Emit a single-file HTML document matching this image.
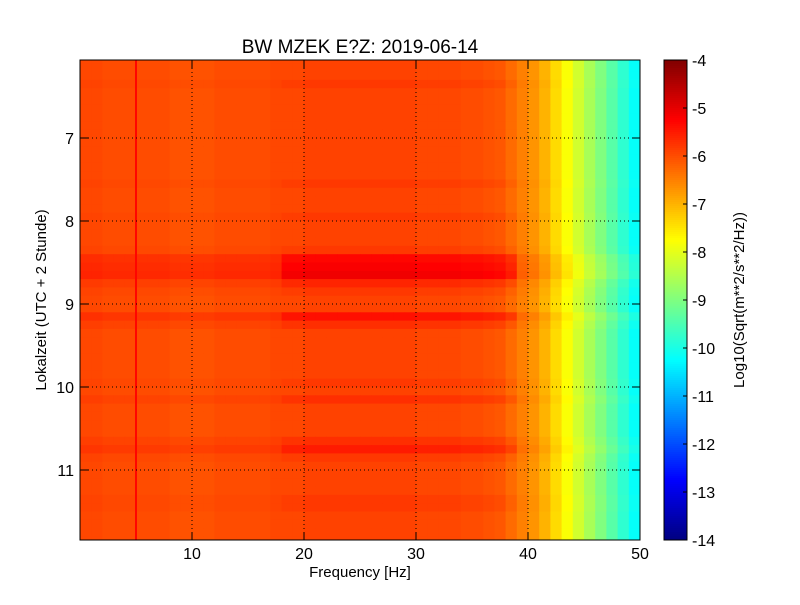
<!DOCTYPE html>
<html><head><meta charset="utf-8"><style>
body{margin:0;background:#fff;}
svg text{font-family:"Liberation Sans",sans-serif;fill:#000;}
</style></head><body>
<svg id="chart" width="800" height="600" xmlns="http://www.w3.org/2000/svg">
<rect width="800" height="600" fill="#fff"/>
<g id="cells"></g>
<g id="grid"></g>
<rect x="80" y="60" width="560" height="480" fill="none" stroke="#000"/>
<g id="axes"></g>
<g id="cbar"></g>
<rect x="664" y="60" width="23" height="480" fill="none" stroke="#000"/>
<text x="360" y="53" font-size="19" text-anchor="middle">BW MZEK E?Z: 2019-06-14</text>
<text x="360" y="577" font-size="15" text-anchor="middle">Frequency [Hz]</text>
<text transform="translate(46,300) rotate(-90)" font-size="15" text-anchor="middle">Lokalzeit (UTC + 2 Stunde)</text>
<text transform="translate(744,300) rotate(-90)" font-size="15" text-anchor="middle">Log10(Sqrt(m**2/s**2/Hz))</text>
</svg>
<script>
const freqProfile=[-5.95,-5.95,-6.0,-6.0,-6.0,-6.0,-6.0,-6.0,-6.05,-6.05,
-6.05,-6.05,-6.0,-6.0,-6.0,-6.0,-6.0,-5.95,-5.95,-5.95,
-5.9,-5.9,-5.9,-5.9,-5.9,-5.9,-5.9,-5.9,-5.9,-5.9,
-5.95,-5.95,-5.95,-5.95,-6.0,-6.0,-6.05,-6.1,-6.3,-6.5,
-6.7,-7.0,-7.4,-7.8,-8.2,-8.6,-9.0,-9.4,-9.8,-10.2];
const timeStart=6.0;
const rowOffset=[0,0,0,0.1,0,0,0,0,0,0,
0,0,0,0,0,0.1,0,0,0,0.1,
0,0,0,0.1,0.6,0.7,0.8,0.3,0.1,0,
0,0.5,0.2,0,0,0,0,0,0,0.1,
0,0.2,0,0,0,0,0.2,0.4,0.1,0,
0,0,0,0.1,0.1,0,0,0,0,0];
const lineFreq=5;
const lineValue=-5.3;
const xTicks=[10,20,30,40,50];
const yTicks=[7,8,9,10,11];
const cTicks=[-4,-5,-6,-7,-8,-9,-10,-11,-12,-13,-14];
const NS="http://www.w3.org/2000/svg";
const xS=f=>80+f*11.2, yS=t=>138+(t-7)*83, cS=v=>60+(-4-v)*48;
function jet(v){let t=(v+14)/10;t=Math.max(0,Math.min(1,t));
const c=x=>Math.round(255*Math.max(0,Math.min(1,1.5-Math.abs(4*t-x))));
return `rgb(${c(3)},${c(2)},${c(1)})`;}
function mk(tag,a,p){const e=document.createElementNS(NS,tag);for(const k in a)e.setAttribute(k,a[k]);p.appendChild(e);return e;}
const cells=document.getElementById('cells');
rowOffset.forEach((o,r)=>{const t0=timeStart+r*0.1;
freqProfile.forEach((v,f)=>{
const y0=Math.max(60,yS(t0)),y1=Math.min(540,yS(t0+0.1));if(y1<=y0)return;
const mid=(f>=18&&f<=38)?1:(f>38&&f<46?0.4:0.45);
const e=mk('rect',{x:xS(f),y:y0,width:11.6,height:y1-y0+0.5,fill:jet(v+o*mid)},cells);

});});
const ln=mk('rect',{x:xS(lineFreq)-1,y:60,width:2,height:480,fill:jet(lineValue)},cells);


const grid=document.getElementById('grid'),axes=document.getElementById('axes');
xTicks.forEach(x=>{const X=xS(x);
if(x<50)mk('line',{x1:X,y1:60,x2:X,y2:540,stroke:'#000','stroke-dasharray':'1,3'},grid);
mk('line',{x1:X,y1:540,x2:X,y2:532,stroke:'#000'},axes);mk('line',{x1:X,y1:60,x2:X,y2:68,stroke:'#000'},axes);
const t=mk('text',{x:X,y:559,'font-size':16,'text-anchor':'middle'},axes);t.textContent=x;

});
yTicks.forEach(y=>{const Y=yS(y);
mk('line',{x1:80,y1:Y,x2:640,y2:Y,stroke:'#000','stroke-dasharray':'1,3'},grid);
mk('line',{x1:80,y1:Y,x2:88,y2:Y,stroke:'#000'},axes);mk('line',{x1:640,y1:Y,x2:632,y2:Y,stroke:'#000'},axes);
const t=mk('text',{x:74,y:Y+6,'font-size':16,'text-anchor':'end'},axes);t.textContent=y;

});
const cb=document.getElementById('cbar');
for(let i=0;i<240;i++){const v=-4-i*10/240;mk('rect',{x:664,y:60+i*2,width:23,height:2.5,fill:jet(v-0.02)},cb);}
cTicks.forEach(v=>{const Y=cS(v);
mk('line',{x1:683,y1:Y,x2:687,y2:Y,stroke:'#000'},cb);
const t=mk('text',{x:692,y:Y+6,'font-size':16},cb);t.textContent=v;

});
</script>
</body></html>
